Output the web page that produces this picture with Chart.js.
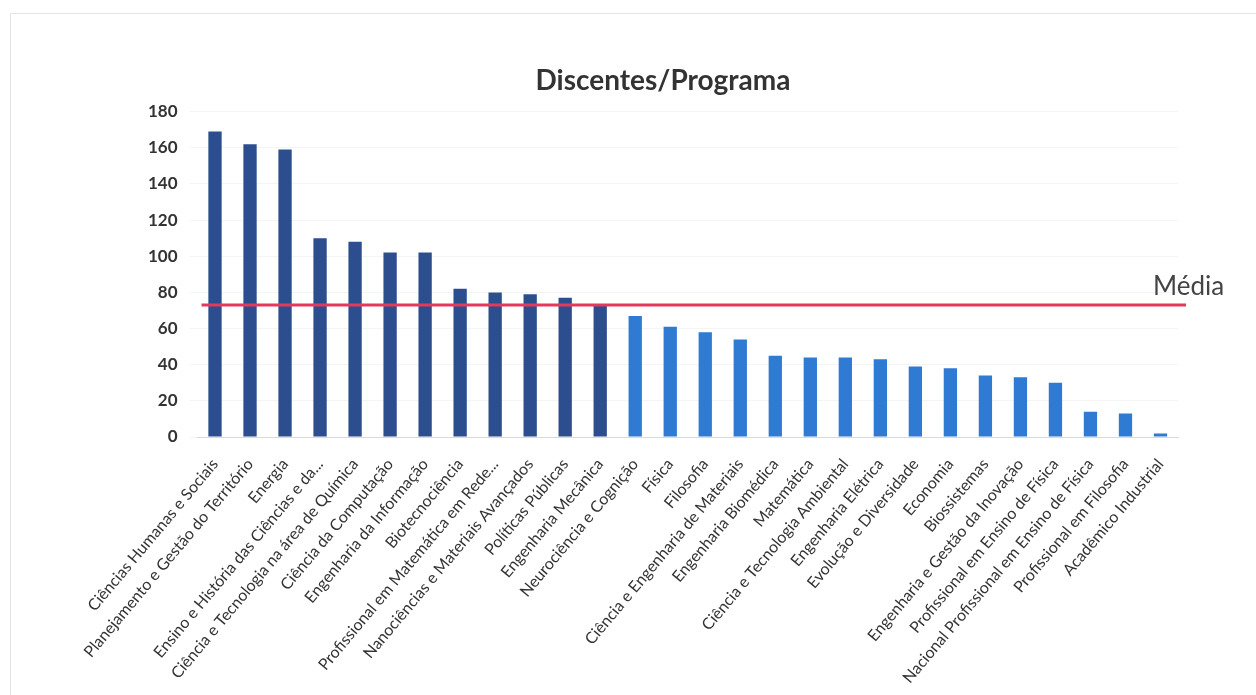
<!DOCTYPE html>
<html>
<head>
<meta charset="utf-8">
<script src="https://cdn.jsdelivr.net/npm/chart.js@4/dist/chart.umd.min.js"></script>
<style>
  html, body { margin: 0; padding: 0; background: #fff; }
  #wrap { position: relative; width: 1256px; height: 695px; }
  #frame { position: absolute; left: 10px; top: 13px; width: 1250px; height: 700px;
           border-left: 1px solid #e4e4e4; border-top: 1px solid #e4e4e4; }
</style>
</head>
<body>
<div id="wrap">
  <div id="frame"></div>
  <canvas id="chart-programas" width="1256" height="695"></canvas>
</div>
<script>
/* Discentes por programa — bar chart with mean line */

const PROGRAMAS = [
  'Ciências Humanas e Sociais',
  'Planejamento e Gestão do Território',
  'Energia',
  'Ensino e História das Ciências e da...',
  'Ciência e Tecnologia na área de Química',
  'Ciência da Computação',
  'Engenharia da Informação',
  'Biotecnociência',
  'Profissional em Matemática em Rede...',
  'Nanociências e Materiais Avançados',
  'Políticas Públicas',
  'Engenharia Mecânica',
  'Neurociência e Cognição',
  'Física',
  'Filosofia',
  'Ciência e Engenharia de Materiais',
  'Engenharia Biomédica',
  'Matemática',
  'Ciência e Tecnologia Ambiental',
  'Engenharia Elétrica',
  'Evolução e Diversidade',
  'Economia',
  'Biossistemas',
  'Engenharia e Gestão da Inovação',
  'Profissional em Ensino de Física',
  'Nacional Profissional em Ensino de Física',
  'Profissional em Filosofia',
  'Acadêmico Industrial',
];

const DISCENTES = [169, 162, 159, 110, 108, 102, 102, 82, 80, 79, 77, 73, 67, 61,
                   58, 54, 45, 44, 44, 43, 39, 38, 34, 33, 30, 14, 13, 2];

const MEDIA = 73;
const MEDIA_LABEL = 'Média';
const Y_TICKS = [0, 20, 40, 60, 80, 100, 120, 140, 160, 180];

const DARK = '#2C4E8E';
const LIGHT = '#2F7AD3';
const RED = '#E5385C';
const FONT = 'Lato, "Open Sans", sans-serif';

const mediaLine = {
  id: 'mediaLine',
  afterDatasetsDraw(chart) {
    const { ctx, chartArea, scales } = chart;
    const y = scales.y.getPixelForValue(MEDIA);
    ctx.save();
    ctx.strokeStyle = RED;
    ctx.lineWidth = 3;
    ctx.beginPath();
    ctx.moveTo(chartArea.left + 4, y);
    ctx.lineTo(chartArea.right + 8, y);
    ctx.stroke();
    ctx.fillStyle = '#444';
    ctx.font = '26px ' + FONT;
    ctx.textAlign = 'left';
    ctx.textBaseline = 'alphabetic';
    ctx.fillText(MEDIA_LABEL, chartArea.right - 25, y - 10);
    ctx.restore();
  },
};

new Chart(document.getElementById('chart-programas'), {
  type: 'bar',
  data: {
    labels: PROGRAMAS,
    datasets: [{
      data: DISCENTES,
      backgroundColor: DISCENTES.map(v => v >= MEDIA ? DARK : LIGHT),
      barPercentage: 0.76,
      categoryPercentage: 0.5,
    }],
  },
  options: {
    responsive: false,
    animation: false,
    layout: { padding: { left: 148, right: 78, top: 0, bottom: 0 } },
    plugins: {
      legend: { display: false },
      tooltip: { enabled: false },
      title: {
        display: true,
        text: 'Discentes/Programa',
        color: '#333',
        font: { size: 28, weight: 'bold', family: FONT },
        padding: { top: 64, bottom: 14 },
      },
    },
    scales: {
      x: {
        grid: { display: false },
        border: { color: '#d9d9d9' },
        ticks: {
          color: '#333',
          autoSkip: false,
          padding: 10,
          minRotation: 50,
          maxRotation: 50,
          font: { size: 16, family: FONT },
        },
        afterFit: s => { s.height = 258; },
      },
      y: {
        min: 0,
        max: 180,
        afterBuildTicks: s => { s.ticks = Y_TICKS.map(v => ({ value: v })); },
        grid: { color: 'rgba(0,0,0,0.045)' },
        border: { display: false },
        ticks: {
          color: '#333',
          padding: 12,
          font: { size: 17, weight: 'bold', family: FONT },
        },
        afterFit: s => { s.width = 49.5; },
      },
    },
  },
  plugins: [mediaLine],
});
</script>
</body>
</html>
